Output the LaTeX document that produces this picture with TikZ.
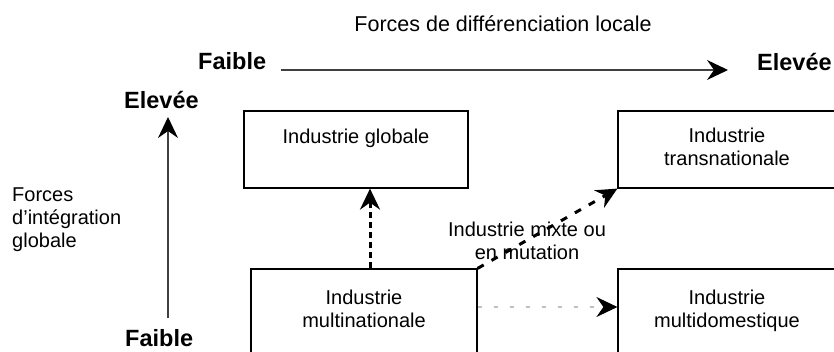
\documentclass[tikz,border=0pt]{standalone}
\usepackage{fontspec}
\setmainfont{Liberation Sans}
\usetikzlibrary{arrows.meta}

\begin{document}
\begin{tikzpicture}[x=1pt, y=-1pt, font=\fontsize{20}{23}\selectfont,
	boite/.style={draw, line width=1.2pt, inner sep=0pt},
	texte/.style={anchor=north, inner sep=0pt, align=center},
	gras/.style={anchor=base west, inner sep=0pt, font=\fontsize{23.5}{27}\selectfont\bfseries},
	pointe/.style={-{Stealth[length=21pt, width=20pt, inset=7pt, black]}},
	axe/.style={pointe, line width=1.2pt, draw=black!75},
	tirets/.style={pointe, line width=3pt, dash pattern=on 6pt off 4pt},
	pointilles/.style={pointe, line width=1.2pt, draw=black!25, dash pattern=on 4pt off 12pt}]

	\def \largeurG{224};
	\def \largeurD{218};

	\useasboundingbox (0,0) rectangle (834,352);
	\clip (0,0) rectangle (834,352);

	% titres et axes
	\node[anchor=base, inner sep=0pt, font=\fontsize{21.5}{25}\selectfont] (titre) at (503,32) {Forces de différenciation locale};
	\node[gras] (faibleX) at (198,70) {Faible};
	\node[gras] (eleveeX) at (757,71) {Elevée};
	\node[gras] (eleveeY) at (124,109) {Elevée};
	\node[gras] (faibleY) at (125,346) {Faible};
	\node[anchor=north west, inner sep=0pt, align=left] (forcesY) at (12,188) {Forces\\d’intégration\\globale};

	\coordinate (finX) at (728,70);
	\coordinate (debutY) at (168,318);
	\coordinate (finY) at (168,117);
	\draw[axe] ([xshift=15pt]faibleX.base east) -- (finX);
	\draw[axe] (debutY) -- (finY);

	% boites
	\node[boite, minimum width=\largeurG pt, minimum height=77pt] (globale) at (356,149.5) {};
	\node[boite, minimum width=\largeurD pt, minimum height=77pt] (transnat) at (727,149.5) {};
	\node[boite, minimum width=226pt, minimum height=100pt] (multinat) at (364,319) {};
	\node[boite, minimum width=\largeurD pt, minimum height=100pt] (multidom) at (727,319) {};

	\node[texte, yshift=-18.5pt] (tglobale) at (globale.north) {Industrie globale};
	\node[texte, yshift=-17.5pt] (ttransnat) at (transnat.north) {Industrie\\transnationale};
	\node[texte, yshift=-21.5pt] (tmultinat) at (multinat.north) {Industrie\\multinationale};
	\node[texte, yshift=-21.5pt] (tmultidom) at (multidom.north) {Industrie\\multidomestique};

	\node[anchor=base, inner sep=0pt, align=center] (mixte) at (527,260) {Industrie mixte ou\\en mutation};

	% fleches
	\draw[tirets] ([xshift=6pt]multinat.north) -- ([xshift=6pt]multinat.north |- globale.south);
	\draw[tirets, dash pattern=on 7pt off 9pt] (multinat.north east) -- (transnat.south west);
	\draw[pointilles] ([yshift=12pt]multinat.east) -- ([yshift=12pt]multinat.east -| multidom.west);

\end{tikzpicture}
\end{document}
